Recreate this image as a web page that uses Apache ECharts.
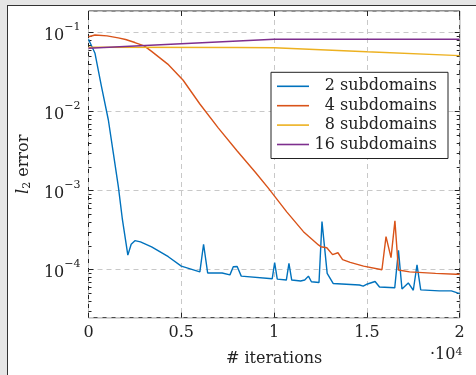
<!DOCTYPE html>
<html>
<head>
<meta charset="utf-8">
<script src="https://cdn.jsdelivr.net/npm/echarts@6/dist/echarts.min.js"></script>
<style>
  html, body { margin: 0; padding: 0; width: 476px; height: 375px; background: #e6e6e6; overflow: hidden; }
  #frame { position: absolute; left: 7px; top: 5px; right: 0; bottom: 0;
           border-left: 1px solid #333; border-top: 1px solid #333; background: #fff; }
  #chart { position: absolute; left: 0; top: 0; width: 468px; height: 369px; }
</style>
</head>
<body>
<div id="frame"><div id="chart"></div></div>
<script>
// l2 error vs iterations, one series per subdomain count
const iters2 = [0, 350, 700, 1070, 1340, 1610, 1830, 2120, 2300, 2500, 2800, 3400, 4300, 5000, 6000, 6200, 6420, 7200, 7300, 7620,
  7800, 8010, 8230, 9900, 10030, 10170, 10660, 10800, 10950, 11430, 11650, 11850, 12010, 12420, 12580, 12860, 13180, 14600, 14800, 15030,
  15440, 15680, 16500, 16700, 16890, 17230, 17500, 17700, 17900, 18900, 19550, 19880, 20000];
const err2 = [0.0824, 0.0548, 0.0207, 0.00785, 0.00297, 0.00112, 4.26e-4, 1.53e-4, 2.1e-4, 2.33e-4, 2.25e-4, 1.95e-4, 1.46e-4, 1.11e-4, 9.4e-5, 2.1e-4, 9.1e-5, 9.1e-5, 8.7e-5, 8.6e-5,
  1.09e-4, 1.1e-4, 8.3e-5, 7.7e-5, 1.23e-4, 7.6e-5, 7.4e-5, 1.2e-4, 7.4e-5, 7.2e-5, 7.4e-5, 8.3e-5, 7.05e-5, 6.9e-5, 4.06e-4, 9.0e-5, 6.7e-5, 6.4e-5, 6.2e-5, 6.6e-5,
  7.1e-5, 6.05e-5, 5.9e-5, 1.76e-4, 5.7e-5, 6.8e-5, 5.5e-5, 1.15e-4, 5.55e-5, 5.4e-5, 5.4e-5, 5.1e-5, 5.0e-5];

const iters4 = [0, 350, 1000, 1600, 2000, 2500, 3000, 3400, 4270, 5100, 6000, 7000, 8000, 9000, 9700, 10680, 11580, 12390, 12520, 12840,
  13150, 13440, 13690, 14100, 14820, 15810, 16030, 16300, 16510, 16700, 17300, 18700, 19800, 20000];
const err4 = [0.0889, 0.0935, 0.0910, 0.0860, 0.082, 0.0750, 0.068, 0.058, 0.040, 0.025, 0.0125, 0.0062, 0.0032, 0.0017, 0.00107, 5.4e-4, 3.03e-4, 2.06e-4, 1.95e-4, 1.9e-4,
  1.55e-4, 1.64e-4, 1.34e-4, 1.24e-4, 1.11e-4, 1.0e-4, 2.62e-4, 1.42e-4, 4.15e-4, 9.9e-5, 9.4e-5, 9.0e-5, 8.75e-5, 8.75e-5];

const iters8 = [0, 8000, 10000, 15000, 20000];
const err8 = [0.0655, 0.0650, 0.0645, 0.0574, 0.0512];

const iters16 = [0, 10000, 20000];
const err16 = [0.0635, 0.0824, 0.0824];

const seriesNames = ['2 subdomains', '4 subdomains', '8 subdomains', '16 subdomains'];
const seriesColors = ['#0072BD', '#D95319', '#EDB120', '#7E2F8E'];
const yMin = 2.47e-5, yMax = 0.188;
const majorExp = [-4, -3, -2, -1];

const font = 'DejaVu Serif';
const minorTicks = [];
for (let e = -5; e <= -1; e++) {
  for (let k = 2; k <= 9; k++) {
    const v = Math.log10(k) + e;
    if (v > Math.log10(yMin) && v < Math.log10(yMax)) minorTicks.push(v);
  }
}
const zip = (xs, ys) => xs.map((x, i) => [x, ys[i]]);
const allData = [zip(iters2, err2), zip(iters4, err4), zip(iters8, err8), zip(iters16, err16)];

const chart = echarts.init(document.getElementById('chart'));
const hiddenAxis = { axisLine: { show: false }, axisLabel: { show: false }, splitLine: { show: false } };

chart.setOption({
  animation: false,
  textStyle: { fontFamily: font },
  grid: { left: 80.5, top: 5, right: 16.3, bottom: 57.3, show: true, borderColor: '#222', borderWidth: 1, backgroundColor: 'transparent' },
  legend: {
    orient: 'vertical', left: 263, top: 66.3,
    backgroundColor: '#fff', borderColor: '#222', borderWidth: 1,
    padding: [6, 11, 6, 6],
    icon: 'rect', itemWidth: 32, itemHeight: 1.6, itemGap: 3.4,
    data: seriesNames,
    formatter: (n) => '{n|' + n + '}',
    textStyle: { rich: { n: { width: 123, align: 'right', fontFamily: font, fontSize: 16, lineHeight: 20, color: '#222' } } }
  },
  xAxis: [{
    type: 'value', min: 0, max: 20000, interval: 5000,
    name: '# iterations', nameLocation: 'middle', nameGap: 33,
    nameTextStyle: { fontFamily: font, fontSize: 16, color: '#222' },
    axisLine: { show: false },
    axisTick: { inside: true, length: 5, lineStyle: { color: '#222' } },
    axisLabel: { margin: 7, fontFamily: font, fontSize: 16, color: '#222',
      formatter: (v) => String(v / 10000) },
    splitLine: { show: true, lineStyle: { color: '#c8c8c8', type: [5, 4], width: 1 } }
  }, {
    type: 'value', min: 0, max: 20000, interval: 5000, position: 'top',
    axisTick: { inside: true, length: 5, lineStyle: { color: '#222' } },
    ...hiddenAxis
  }],
  yAxis: [{
    type: 'log', logBase: 10, min: yMin, max: yMax,
    name: '{it|l}{sub|2} error', nameLocation: 'middle', nameGap: 56, nameRotate: 90,
    nameTextStyle: { fontFamily: font, fontSize: 16, color: '#222',
      rich: { it: { fontFamily: font, fontStyle: 'italic', fontSize: 16, color: '#222' },
              sub: { fontFamily: font, fontSize: 11, color: '#222', verticalAlign: 'bottom', padding: [6, 0, 0, 0] } } },
    axisLine: { show: false },
    axisTick: { inside: true, length: 5, lineStyle: { color: '#222' } },
    axisLabel: {
      margin: 8, showMinLabel: false, showMaxLabel: false,
      formatter: (v) => '{b|10}{s|−' + Math.round(-Math.log10(v)) + '}',
      rich: { b: { fontFamily: font, fontSize: 16, color: '#222', lineHeight: 22, verticalAlign: 'bottom' },
              s: { fontFamily: font, fontSize: 11, color: '#222', verticalAlign: 'top', lineHeight: 22 } }
    },
    splitLine: { show: true, lineStyle: { color: '#c8c8c8', type: [5, 4], width: 1 } }
  }, {
    type: 'value', min: Math.log10(yMin), max: Math.log10(yMax), position: 'left',
    axisTick: { inside: true, length: 3, customValues: minorTicks, lineStyle: { color: '#222' } },
    ...hiddenAxis
  }, {
    type: 'value', min: Math.log10(yMin), max: Math.log10(yMax), position: 'right',
    axisTick: { inside: true, length: 5, customValues: majorExp, lineStyle: { color: '#222' } },
    ...hiddenAxis
  }, {
    type: 'value', min: Math.log10(yMin), max: Math.log10(yMax), position: 'right',
    axisTick: { inside: true, length: 3, customValues: minorTicks, lineStyle: { color: '#222' } },
    ...hiddenAxis
  }],
  graphic: [{
    type: 'text', left: 422, top: 341,
    style: { rich: { d: { fontFamily: font, fontSize: 16, fill: '#222' }, e: { fontFamily: font, fontSize: 11, fill: '#222', verticalAlign: 'top' } },
      text: '{d|·10}{e|4}' }
  }],
  series: seriesNames.map((name, i) => ({
    name, type: 'line', data: allData[i], xAxisIndex: 0, yAxisIndex: 0,
    symbol: 'none', showSymbol: false,
    lineStyle: { width: 1.4, color: seriesColors[i] },
    itemStyle: { color: seriesColors[i] }
  }))
});
</script>
</body>
</html>
